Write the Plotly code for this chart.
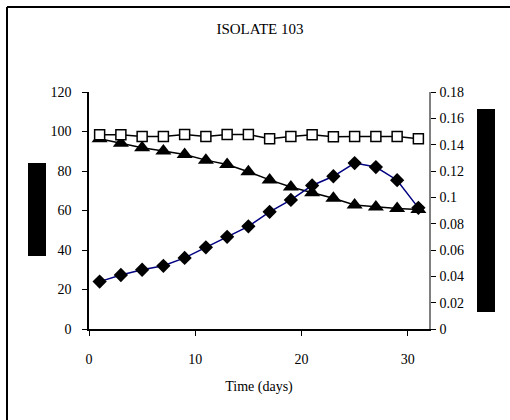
import plotly.graph_objects as go

days = [1, 3, 5, 7, 9, 11, 13, 15, 17, 19, 21, 23, 25, 27, 29, 31]
squares = [98.3, 98.3, 97.5, 97.5, 98.5, 97.5, 98.5, 98.5, 96.3, 97.5, 98.3, 97.3, 97.5, 97.5, 97.5, 96.3]
triangles = [96.3, 94.1, 91.8, 90.1, 88.4, 85.5, 83.3, 79.6, 75.5, 71.9, 69.0, 66.2, 62.8, 61.8, 61.0, 60.5]
diamonds_od = [0.036, 0.041, 0.045, 0.048, 0.054, 0.062, 0.070, 0.078, 0.089, 0.098, 0.109, 0.116, 0.126, 0.123, 0.113, 0.092]

title = "ISOLATE 103"
xtitle = "Time (days)"
left_ticks = [0, 20, 40, 60, 80, 100, 120]
right_ticks = [0, 0.02, 0.04, 0.06, 0.08, 0.1, 0.12, 0.14, 0.16, 0.18]
right_labels = ["0", "0.02", "0.04", "0.06", "0.08", "0.1", "0.12", "0.14", "0.16", "0.18"]

FONT = "'Liberation Serif', 'Times New Roman', Times, serif"

fig = go.Figure()
fig.add_trace(go.Scatter(
    x=days, y=triangles, mode="lines+markers",
    line=dict(color="black", width=1.5),
    marker=dict(symbol="triangle-up", size=14, color="black"),
    showlegend=False))
fig.add_trace(go.Scatter(
    x=days, y=squares, mode="lines+markers",
    line=dict(color="black", width=1.5),
    marker=dict(symbol="square", size=10, color="white", line=dict(color="black", width=1.5)),
    showlegend=False))
fig.add_trace(go.Scatter(
    x=days, y=diamonds_od, mode="lines+markers", yaxis="y2",
    line=dict(color="#000080", width=1.5),
    marker=dict(symbol="diamond", size=11, color="black"),
    showlegend=False))

# plot area in px: left 89, right 429, top 92, bottom 329
W, H = 510, 420
L, R, T, B = 89, 429, 92, 329

def px(x):
    return (x - L) / (R - L)

def py(y):
    return (B - y) / (B - T)

shapes = [
    dict(type="line", xref="paper", yref="paper", x0=px(7), x1=px(7), y0=py(7), y1=py(425),
         line=dict(color="black", width=2)),
    dict(type="line", xref="paper", yref="paper", x0=px(7), x1=px(515), y0=py(7), y1=py(7),
         line=dict(color="black", width=2)),
    dict(type="rect", xref="paper", yref="paper", x0=px(28), x1=px(46), y0=py(256), y1=py(163),
         fillcolor="black", line=dict(width=0)),
    dict(type="rect", xref="paper", yref="paper", x0=px(477), x1=px(495), y0=py(312), y1=py(109),
         fillcolor="black", line=dict(width=0)),
]

fig.update_layout(
    width=W, height=H,
    margin=dict(l=L, r=W - R, t=T, b=H - B),
    paper_bgcolor="white", plot_bgcolor="white",
    font=dict(family=FONT, size=14, color="black"),
    title=dict(text=title, x=(260) / W, xanchor="center", y=1 - 29 / H, yanchor="middle",
               font=dict(family=FONT, size=15, color="black")),
    xaxis=dict(range=[0, 32], tickvals=[0, 10, 20, 30], showgrid=False, zeroline=False,
               showline=True, linecolor="black", linewidth=1.5,
               ticks="outside", ticklen=5, tickcolor="black", ticklabelstandoff=11,
               title=dict(text=xtitle, font=dict(family=FONT, size=14), standoff=16),
               tickfont=dict(family=FONT, size=14)),
    yaxis=dict(range=[0, 120], tickvals=left_ticks, showgrid=False, zeroline=False,
               showline=True, linecolor="black", linewidth=1.5,
               ticks="outside", ticklen=5, tickcolor="black", ticklabelstandoff=8,
               tickfont=dict(family=FONT, size=14)),
    yaxis2=dict(range=[0, 0.18], tickvals=right_ticks, ticktext=right_labels,
                overlaying="y", side="right", showgrid=False, zeroline=False,
                showline=True, linecolor="#808080", linewidth=1.5,
                ticks="outside", ticklen=5, tickcolor="black", ticklabelstandoff=1,
                tickfont=dict(family=FONT, size=14)),
    yaxis3=dict(range=[0, 0.18], tickvals=right_ticks, showticklabels=False,
                overlaying="y", side="right", showgrid=False, zeroline=False,
                showline=False, ticks="inside", ticklen=5, tickcolor="black"),
    shapes=shapes,
)

fig.write_html("out.html")
